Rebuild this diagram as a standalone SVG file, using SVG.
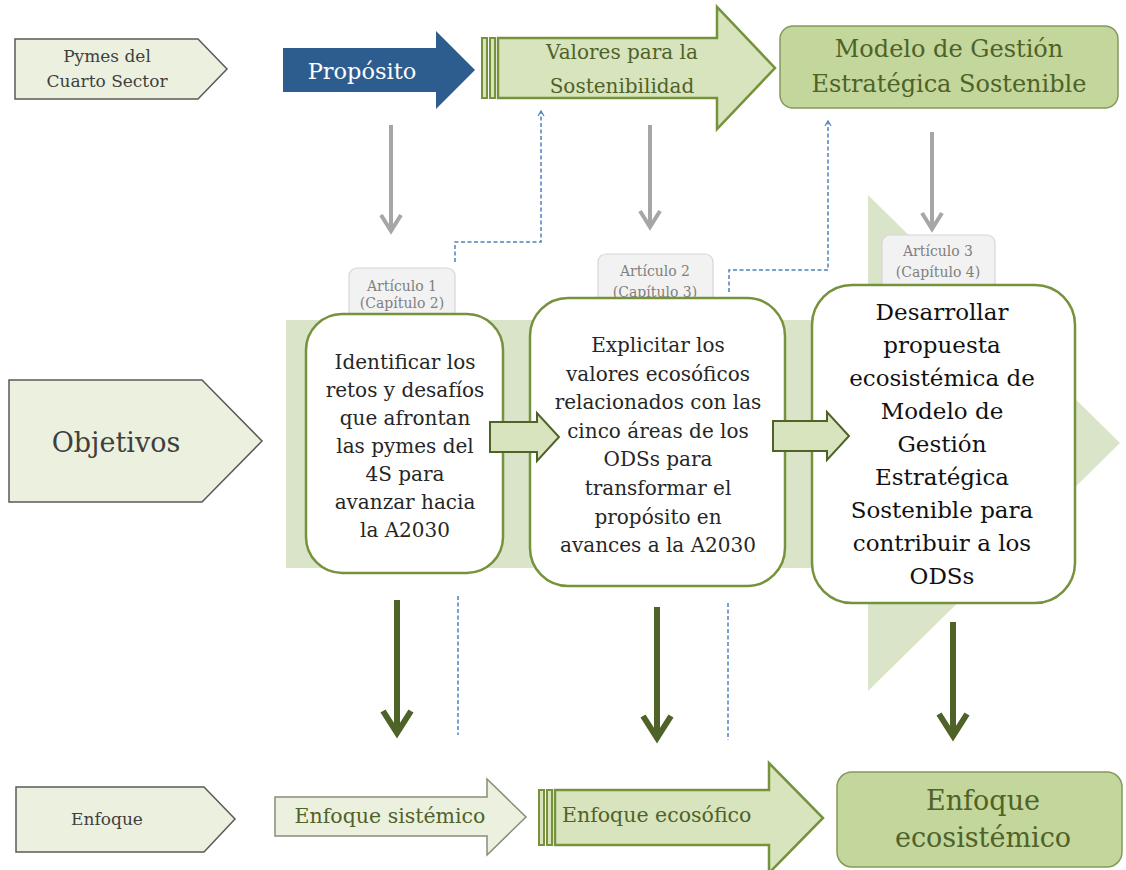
<svg xmlns="http://www.w3.org/2000/svg" width="1126" height="870" viewBox="0 0 1126 870">
  <style>
    text { font-family: "DejaVu Serif", "Liberation Serif", serif; text-anchor: middle; }
    text.start { text-anchor: start; }
    .lbl { fill: #3f3f3f; }
    .olive { fill: #4f6228; }
    .obj { fill: #262626; font-size: 20px; }
    .obj3 { fill: #111111; font-size: 23px; }
    .art { fill: #808080; font-size: 14px; }
    .tag { fill: #ebf1de; stroke: #5a5a5a; stroke-width: 1.5; }
    .goal { fill: #ffffff; stroke: #76923c; stroke-width: 2.5; }
    .chip { fill: #f2f2f2; stroke: #d6d6d6; stroke-width: 1.2; }
    .green-arrow { fill: #d7e4bd; stroke: #76923c; stroke-width: 2.5; }
    .stripe { fill: #d7e4bd; stroke: #76923c; stroke-width: 2; }
    .solid-box { fill: #c3d69b; stroke: #85995e; stroke-width: 1.5; }
    .step { fill: #d7e4bd; stroke: #4f6228; stroke-width: 2; }
    .gray { fill: none; stroke: #a6a6a6; stroke-width: 4; }
    .dark { fill: none; stroke: #4f6228; stroke-width: 6; }
    .dash { fill: none; stroke: #4f81bd; stroke-width: 1.5; stroke-dasharray: 4 2.5; }
  </style>
  <defs>
    <marker id="headGray" markerUnits="userSpaceOnUse" viewBox="-20 -14 24 28" refX="0" refY="0" markerWidth="24" markerHeight="28" orient="auto">
      <path d="M-16,-10 L0,0 L-16,10" fill="none" stroke="#a6a6a6" stroke-width="4" stroke-linejoin="miter"/>
    </marker>
    <marker id="headDark" markerUnits="userSpaceOnUse" viewBox="-28 -20 34 40" refX="0" refY="0" markerWidth="34" markerHeight="40" orient="auto">
      <path d="M-22,-14 L0,0 L-22,14" fill="none" stroke="#4f6228" stroke-width="6" stroke-linejoin="miter"/>
    </marker>
    <marker id="headBlue" markerUnits="userSpaceOnUse" viewBox="-8 -5 10 10" refX="0" refY="0" markerWidth="10" markerHeight="10" orient="auto">
      <path d="M-5,-3 L0,0 L-5,3" fill="none" stroke="#4f81bd" stroke-width="1.2"/>
    </marker>
  </defs>

  <!-- background band with broad arrow head behind the three objectives -->
  <path id="band" d="M286,320 H868 V195 L1120,443 L868,691 V568 H286 Z" fill="#d9e4c8"/>

  <!-- row labels -->
  <g id="pymes">
    <path class="tag" d="M15,39 H198 L227,69 L198,99 H15 Z"/>
    <text class="lbl" x="107" y="62" font-size="17">Pymes del</text>
    <text class="lbl" x="107" y="87" font-size="17">Cuarto Sector</text>
  </g>
  <g id="objetivos">
    <path class="tag" d="M9,380 H202 L262,441 L202,502 H9 Z"/>
    <text class="lbl" x="116" y="452" font-size="27">Objetivos</text>
  </g>
  <g id="enfoque">
    <path class="tag" d="M16,787 H204 L235,819 L204,852 H16 Z"/>
    <text class="lbl" x="107" y="825" font-size="17">Enfoque</text>
  </g>

  <!-- top row -->
  <g id="proposito">
    <path d="M283,48 H436 V31 L475,70 L436,109 V92 H283 Z" fill="#2d5d8f"/>
    <text x="362" y="79" font-size="22.5" fill="#ffffff">Propósito</text>
  </g>
  <g id="valores">
    <rect class="stripe" x="482" y="38" width="5" height="60"/>
    <rect class="stripe" x="490" y="38" width="5" height="60"/>
    <path class="green-arrow" d="M498,38 H717 V7 L775,68 L717,129 V98 H498 Z"/>
    <text class="olive" x="622" y="59" font-size="20">Valores para la</text>
    <text class="olive" x="622" y="93" font-size="20">Sostenibilidad</text>
  </g>
  <g id="modelo">
    <rect class="solid-box" x="780" y="26" width="338" height="82" rx="13"/>
    <text class="olive" x="949" y="57" font-size="24">Modelo de Gestión</text>
    <text class="olive" x="949" y="92" font-size="24">Estratégica Sostenible</text>
  </g>

  <!-- connectors -->
  <g id="connectors">
    <path class="gray" d="M391,125 V231" marker-end="url(#headGray)"/>
    <path class="gray" d="M650,125 V227" marker-end="url(#headGray)"/>
    <path class="gray" d="M932,132 V229" marker-end="url(#headGray)"/>
    <path class="dash" d="M455,262 V242 H541 V111" marker-end="url(#headBlue)"/>
    <path class="dash" d="M729,292 V270 H828 V121" marker-end="url(#headBlue)"/>
    <path class="dark" d="M397,600 V733" marker-end="url(#headDark)"/>
    <path class="dark" d="M657,607 V738" marker-end="url(#headDark)"/>
    <path class="dark" d="M953,622 V736" marker-end="url(#headDark)"/>
    <path class="dash" d="M458,596 V735"/>
    <path class="dash" d="M728,603 V740"/>
  </g>

  <!-- article tags -->
  <g id="articulo1">
    <rect class="chip" x="349" y="268" width="106" height="60" rx="8"/>
    <text class="art" x="402" y="291">Artículo 1</text>
    <text class="art" x="402" y="308">(Capítulo 2)</text>
  </g>
  <g id="articulo2">
    <rect class="chip" x="598" y="254" width="115" height="58" rx="8"/>
    <text class="art" x="655" y="276">Artículo 2</text>
    <text class="art" x="655" y="297">(Capítulo 3)</text>
  </g>
  <g id="articulo3">
    <rect class="chip" x="882" y="235" width="113" height="57" rx="8"/>
    <text class="art" x="938" y="256">Artículo 3</text>
    <text class="art" x="938" y="277">(Capítulo 4)</text>
  </g>

  <!-- objectives -->
  <g id="objetivo1">
    <rect class="goal" x="306" y="314" width="197" height="259" rx="36"/>
    <text class="obj" x="405" y="369">Identificar los</text>
    <text class="obj" x="405" y="397">retos y desafíos</text>
    <text class="obj" x="405" y="425">que afrontan</text>
    <text class="obj" x="405" y="453">las pymes del</text>
    <text class="obj" x="405" y="481">4S para</text>
    <text class="obj" x="405" y="509">avanzar hacia</text>
    <text class="obj" x="405" y="537">la A2030</text>
  </g>
  <g id="objetivo2">
    <rect class="goal" x="530" y="298" width="255" height="288" rx="38"/>
    <text class="obj" x="658" y="352">Explicitar los</text>
    <text class="obj" x="658" y="380.6">valores ecosóficos</text>
    <text class="obj" x="658" y="409.2">relacionados con las</text>
    <text class="obj" x="658" y="437.8">cinco áreas de los</text>
    <text class="obj" x="658" y="466.4">ODSs para</text>
    <text class="obj" x="658" y="495">transformar el</text>
    <text class="obj" x="658" y="523.6">propósito en</text>
    <text class="obj" x="658" y="552.2">avances a la A2030</text>
  </g>
  <g id="objetivo3">
    <rect class="goal" x="812" y="285" width="263" height="318" rx="40"/>
    <text class="obj3" x="942" y="320">Desarrollar</text>
    <text class="obj3" x="942" y="353">propuesta</text>
    <text class="obj3" x="942" y="386">ecosistémica de</text>
    <text class="obj3" x="942" y="419">Modelo de</text>
    <text class="obj3" x="942" y="452">Gestión</text>
    <text class="obj3" x="942" y="485">Estratégica</text>
    <text class="obj3" x="942" y="518">Sostenible para</text>
    <text class="obj3" x="942" y="551">contribuir a los</text>
    <text class="obj3" x="942" y="584">ODSs</text>
  </g>

  <!-- step arrows between objectives -->
  <g id="paso1">
    <path class="step" d="M490,422 H537 V413 L559,437 L537,461 V452 H490 Z"/>
  </g>
  <g id="paso2">
    <path class="step" d="M773,421 H827 V412 L849,436 L827,460 V451 H773 Z"/>
  </g>

  <!-- bottom row -->
  <g id="sistemico">
    <path d="M275,797 H487 V779 L526,817 L487,855 V836 H275 Z" fill="#ebf1de" stroke="#858f78" stroke-width="1.5"/>
    <text class="olive" x="390" y="823" font-size="20.5">Enfoque sistémico</text>
  </g>
  <g id="ecosofico">
    <rect class="stripe" x="539" y="790" width="5" height="55"/>
    <rect class="stripe" x="547" y="790" width="5" height="55"/>
    <path class="green-arrow" d="M555,790 H769 V763 L823,818 L769,873 V845 H555 Z"/>
    <text class="olive start" x="562" y="822" font-size="20.5">Enfoque ecosófico</text>
  </g>
  <g id="ecosistemico">
    <rect class="solid-box" x="837" y="772" width="285" height="95" rx="15"/>
    <text class="olive" x="983" y="810" font-size="27">Enfoque</text>
    <text class="olive" x="983" y="847" font-size="27">ecosistémico</text>
  </g>
</svg>
